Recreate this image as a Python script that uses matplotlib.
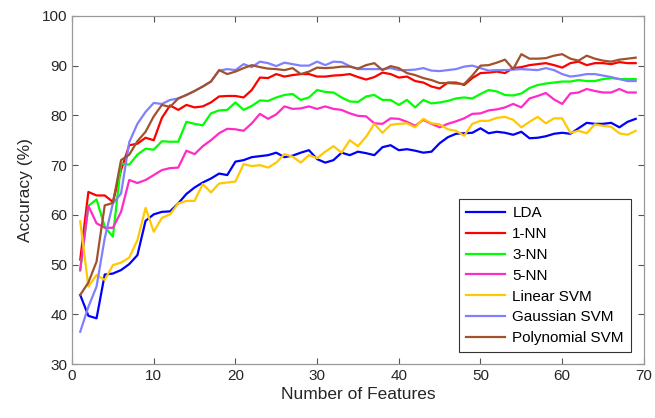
import numpy as np
import matplotlib
matplotlib.use("Agg")
import matplotlib.pyplot as plt

plt.rcParams["font.family"] = ["Liberation Sans", "DejaVu Sans"]

n_features = list(range(1, 70))

lda = [43.9, 39.7, 39.2, 48.0, 48.2, 48.9, 50.1, 51.9, 58.8, 60.1,
       60.6, 60.7, 62.3, 64.2, 65.5, 66.5, 67.3, 68.3, 68.0, 70.7,
       71.0, 71.6, 71.8, 72.0, 72.5, 71.6, 71.9, 72.5, 73.0, 71.2,
       70.5, 71.0, 72.5, 72.0, 72.7, 72.4, 72.0, 73.6, 74.0, 73.0,
       73.2, 72.9, 72.5, 72.7, 74.4, 75.6, 76.3, 76.4, 76.5, 77.4,
       76.4, 76.7, 76.5, 76.1, 76.7, 75.4, 75.5, 75.8, 76.3, 76.5,
       76.3, 77.4, 78.5, 78.3, 78.3, 78.5, 77.6, 78.7, 79.3]

nn1 = [51.0, 64.6, 63.9, 63.9, 62.6, 69.0, 74.0, 74.3, 75.5, 75.0,
       79.5, 82.0, 81.1, 82.1, 81.6, 81.8, 82.6, 83.8, 83.9, 83.9,
       83.6, 85.1, 87.6, 87.5, 88.3, 87.8, 88.1, 88.3, 88.3, 87.8,
       87.8, 88.0, 88.1, 88.3, 87.7, 87.2, 87.7, 88.6, 88.3, 87.6,
       87.8, 86.9, 86.6, 85.8, 85.4, 86.6, 86.6, 86.1, 87.5, 88.5,
       88.6, 88.8, 88.5, 89.5, 89.7, 90.1, 90.3, 90.5, 90.1, 89.6,
       90.5, 90.8, 90.1, 90.5, 90.5, 90.3, 90.7, 90.5, 90.5]

nn3 = [48.8, 61.8, 63.1, 57.6, 55.6, 70.3, 70.1, 72.1, 73.3, 73.1,
       74.8, 74.7, 74.7, 78.7, 78.3, 78.0, 80.4, 81.0, 81.1, 82.6,
       81.1, 81.9, 83.0, 82.9, 83.6, 84.1, 84.3, 83.1, 83.6, 85.1,
       84.7, 84.6, 83.6, 82.8, 82.7, 83.8, 84.1, 83.1, 83.1, 82.1,
       83.1, 81.6, 83.1, 82.4, 82.6, 82.9, 83.4, 83.6, 83.4, 84.3,
       85.1, 84.8, 84.1, 84.0, 84.4, 85.5, 86.1, 86.4, 86.6, 86.8,
       86.8, 87.1, 86.9, 86.9, 87.3, 87.5, 87.3, 87.3, 87.3]

nn5 = [49.0, 61.8, 58.3, 57.4, 57.4, 60.6, 67.0, 66.4, 67.0, 68.0,
       69.0, 69.4, 69.5, 72.9, 72.2, 73.8, 75.0, 76.4, 77.3, 77.2,
       76.9, 78.4, 80.3, 79.3, 80.2, 81.8, 81.3, 81.4, 81.8, 81.3,
       81.8, 81.3, 81.1, 80.4, 79.9, 79.8, 78.4, 78.3, 79.4, 79.3,
       78.7, 77.9, 79.1, 78.3, 77.6, 78.3, 78.8, 79.4, 80.3, 80.4,
       81.0, 81.2, 81.6, 82.3, 81.6, 83.4, 83.9, 84.5, 83.2, 82.3,
       84.4, 84.6, 85.3, 84.9, 84.6, 84.6, 85.3, 84.6, 84.6]

linear_svm = [58.7, 45.6, 47.9, 46.9, 49.9, 50.4, 51.4, 54.9, 61.4, 56.6,
              59.4, 60.1, 62.3, 62.8, 62.8, 66.2, 64.5, 66.3, 66.5, 66.7,
              70.2, 69.8, 70.0, 69.5, 70.5, 72.2, 71.7, 70.5, 72.0, 71.4,
              72.7, 73.8, 72.5, 75.0, 73.8, 75.7, 78.3, 76.5, 78.1, 78.3,
              78.4, 77.6, 79.3, 78.4, 78.2, 77.2, 76.9, 75.9, 78.3, 78.9,
              78.9, 79.5, 79.7, 79.1, 77.6, 78.7, 79.7, 78.4, 79.4, 79.4,
              76.5, 76.9, 76.4, 78.2, 77.9, 77.7, 76.4, 76.1, 76.9]

gaussian_svm = [36.5, 41.5, 45.6, 55.3, 62.3, 64.3, 74.6, 78.3, 80.7, 82.5,
                82.3, 83.1, 83.4, 84.1, 84.9, 85.8, 86.8, 89.0, 89.3, 89.1,
                90.3, 89.7, 90.8, 90.5, 89.9, 90.6, 90.3, 90.0, 90.0, 90.8,
                90.1, 90.8, 90.7, 89.9, 89.3, 89.3, 89.3, 89.3, 89.5, 89.1,
                89.1, 89.2, 89.5, 89.0, 88.9, 89.1, 89.3, 89.8, 90.0, 89.5,
                89.0, 89.1, 89.1, 89.2, 89.3, 89.2, 89.1, 89.5, 89.1, 88.3,
                87.8, 88.0, 88.3, 88.3, 88.0, 87.7, 87.3, 86.9, 86.9]

poly_svm = [43.9, 46.4, 50.6, 61.9, 62.4, 71.0, 72.1, 74.8, 76.7, 79.8,
            82.1, 81.7, 83.4, 84.1, 84.9, 85.8, 86.8, 89.1, 88.3, 88.8,
            89.5, 90.1, 89.7, 89.4, 89.3, 89.1, 89.5, 88.3, 88.8, 89.6,
            89.5, 89.6, 89.8, 89.8, 89.4, 90.1, 90.5, 89.1, 89.9, 89.5,
            88.5, 88.1, 87.5, 87.1, 86.5, 86.5, 86.4, 86.3, 88.0, 90.0,
            90.1, 90.6, 91.2, 89.3, 92.3, 91.4, 91.4, 91.5, 92.0, 92.3,
            91.4, 91.0, 92.0, 91.4, 91.0, 90.8, 91.2, 91.4, 91.6]

series = [
    ("LDA", lda, "#0000FF"),
    ("1-NN", nn1, "#FF0000"),
    ("3-NN", nn3, "#00FF00"),
    ("5-NN", nn5, "#FF2BC8"),
    ("Linear SVM", linear_svm, "#FFC800"),
    ("Gaussian SVM", gaussian_svm, "#8080FF"),
    ("Polynomial SVM", poly_svm, "#A0522D"),
]

fig = plt.figure(figsize=(6.55, 4.18), dpi=100)
ax = fig.add_axes([0.110, 0.129, 0.873, 0.833])

for label, vals, color in series:
    ax.plot(n_features, vals, color=color, lw=1.6, label=label)

ax.set_xlim(0, 70)
ax.set_ylim(30, 100)
ax.set_xticks(np.arange(0, 71, 10))
ax.set_yticks(np.arange(30, 101, 10))
ax.tick_params(direction="in", top=True, right=True, length=4,
               color="#555555", labelsize=11, labelcolor="#262626")
for sp in ax.spines.values():
    sp.set_color("#999999")
    sp.set_linewidth(0.9)

ax.set_xlabel("Number of Features", fontsize=12.5, color="#262626", labelpad=3)
ax.set_ylabel("Accuracy (%)", fontsize=12.5, color="#262626", labelpad=6)

leg = ax.legend(loc="lower right", bbox_to_anchor=(0.977, 0.034),
                borderaxespad=0, fontsize=11, fancybox=False, framealpha=1,
                edgecolor="#333333", handlelength=2.6, borderpad=0.45,
                labelspacing=0.45, handletextpad=0.45)
leg.get_frame().set_linewidth(0.8)

fig.savefig("out.png", dpi=100)
